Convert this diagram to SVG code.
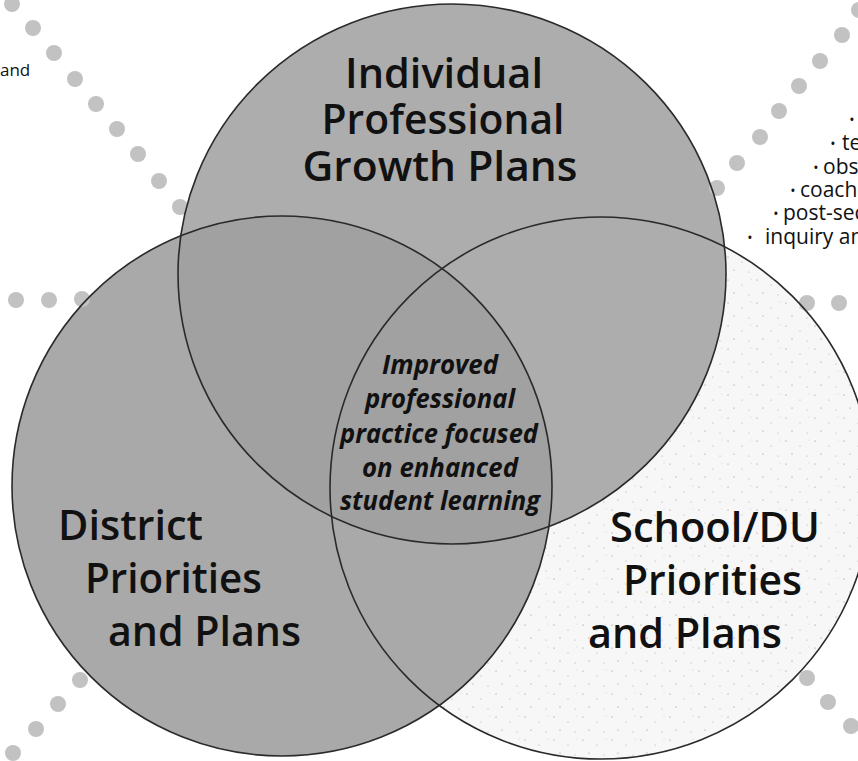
<svg xmlns="http://www.w3.org/2000/svg" xmlns:xlink="http://www.w3.org/1999/xlink" width="858" height="761" viewBox="0 0 858 761">
  <defs>
    <style>
      .head { font-family: "Open Sans", "Noto Sans", "Liberation Sans", sans-serif; font-weight: 600; font-size: 42px; fill: #111; }
      .core { font-family: "Open Sans", "Noto Sans", "Liberation Sans", sans-serif; font-weight: 700; font-style: italic; font-size: 27px; fill: #111; }
      .side { font-family: "Open Sans", "Noto Sans", "Liberation Sans", sans-serif; font-size: 21px; fill: #111; }
      .side .b { font-size: 14px; text-anchor: middle; }
      .note { font-family: "Open Sans", "Noto Sans", "Liberation Sans", sans-serif; font-size: 17px; fill: #111; }
      .ring { fill: none; stroke: #2a2a2a; stroke-width: 1.6; }
      .dot { fill: #c2c2c2; }
    </style>
    <!-- circle outlines, reused for fills, clips and strokes -->
    <ellipse id="c-top" cx="452" cy="274" rx="274" ry="270"/>
    <circle id="c-left" cx="282" cy="486" r="270"/>
    <circle id="c-right" cx="601" cy="488" r="271"/>
    <clipPath id="clip-top"><use xlink:href="#c-top"/></clipPath>
    <!-- sparse stipple for the school circle -->
    <pattern id="stipple" width="29" height="23" patternUnits="userSpaceOnUse">
      <rect width="29" height="23" fill="#f7f7f7"/>
      <circle cx="3" cy="4" r="0.6" fill="#8a8a8a"/>
      <circle cx="17" cy="9" r="0.5" fill="#9a9a9a"/>
      <circle cx="9" cy="17" r="0.6" fill="#8a8a8a"/>
      <circle cx="24" cy="19" r="0.5" fill="#9a9a9a"/>
      <circle cx="26" cy="3" r="0.4" fill="#aaaaaa"/>
    </pattern>
  </defs>

  <rect width="858" height="761" fill="#ffffff"/>

  <!-- circle fills -->
  <g id="school-plans-fill"><use xlink:href="#c-right" fill="url(#stipple)"/></g>
  <g id="district-plans-fill"><use xlink:href="#c-left" fill="#a9a9a9"/></g>
  <g id="individual-plans-fill"><use xlink:href="#c-top" fill="#adadad"/></g>
  <!-- top/left overlap is a touch darker -->
  <g clip-path="url(#clip-top)"><use xlink:href="#c-left" fill="#a1a1a1"/></g>

  <!-- dotted trails -->
  <g id="trails">
    <circle class="dot" cx="12" cy="4" r="8"/>
    <circle class="dot" cx="33" cy="28" r="8"/>
    <circle class="dot" cx="54" cy="53" r="8"/>
    <circle class="dot" cx="75" cy="79" r="8"/>
    <circle class="dot" cx="96" cy="104" r="8"/>
    <circle class="dot" cx="117" cy="129" r="8"/>
    <circle class="dot" cx="138" cy="154" r="8"/>
    <circle class="dot" cx="159" cy="181" r="8"/>
    <circle class="dot" cx="180" cy="207" r="8"/>

    <circle class="dot" cx="859" cy="10" r="8"/>
    <circle class="dot" cx="842" cy="35" r="8"/>
    <circle class="dot" cx="820" cy="61" r="8"/>
    <circle class="dot" cx="799" cy="86" r="8"/>
    <circle class="dot" cx="779" cy="111" r="8"/>
    <circle class="dot" cx="760" cy="137" r="8"/>
    <circle class="dot" cx="737" cy="163" r="8"/>
    <circle class="dot" cx="717" cy="188" r="8"/>

    <circle class="dot" cx="807" cy="303" r="8"/>
    <circle class="dot" cx="839" cy="303" r="8"/>

    <circle class="dot" cx="16" cy="300" r="8"/>
    <circle class="dot" cx="49" cy="300" r="8"/>
    <circle class="dot" cx="82" cy="299" r="8"/>

    <circle class="dot" cx="80" cy="680" r="8"/>
    <circle class="dot" cx="58" cy="704" r="8"/>
    <circle class="dot" cx="36" cy="729" r="8"/>
    <circle class="dot" cx="13" cy="753" r="8"/>

    <circle class="dot" cx="807" cy="678" r="8"/>
    <circle class="dot" cx="828" cy="702" r="8"/>
    <circle class="dot" cx="851" cy="726" r="8"/>
  </g>

  <!-- circle outlines -->
  <g id="outlines">
    <use xlink:href="#c-right" class="ring" stroke-width="2"/>
    <use xlink:href="#c-left" class="ring" stroke-width="1.8"/>
    <use xlink:href="#c-top" class="ring" stroke-width="1.4"/>
  </g>

  <!-- labels -->
  <g id="individual-plans" text-anchor="middle">
    <text class="head" x="444" y="88" textLength="198" lengthAdjust="spacingAndGlyphs">Individual</text>
    <text class="head" x="443" y="134" textLength="243" lengthAdjust="spacingAndGlyphs">Professional</text>
    <text class="head" x="440" y="181" textLength="275" lengthAdjust="spacingAndGlyphs">Growth Plans</text>
  </g>

  <g id="district-plans">
    <text class="head" x="58" y="540" textLength="145" lengthAdjust="spacingAndGlyphs">District</text>
    <text class="head" x="85" y="593" textLength="177" lengthAdjust="spacingAndGlyphs">Priorities</text>
    <text class="head" x="108" y="646" textLength="193" lengthAdjust="spacingAndGlyphs">and Plans</text>
  </g>

  <g id="school-plans">
    <text class="head" x="610" y="542" textLength="210" lengthAdjust="spacingAndGlyphs">School/DU</text>
    <text class="head" x="623" y="595" textLength="179" lengthAdjust="spacingAndGlyphs">Priorities</text>
    <text class="head" x="588" y="648" textLength="194" lengthAdjust="spacingAndGlyphs">and Plans</text>
  </g>

  <g id="center-focus">
    <text class="core" x="382" y="374" textLength="116" lengthAdjust="spacingAndGlyphs">Improved</text>
    <text class="core" x="365" y="408" textLength="150" lengthAdjust="spacingAndGlyphs">professional</text>
    <text class="core" x="340" y="443" textLength="198" lengthAdjust="spacingAndGlyphs">practice focused</text>
    <text class="core" x="362" y="477" textLength="156" lengthAdjust="spacingAndGlyphs">on enhanced</text>
    <text class="core" x="340" y="510" textLength="200" lengthAdjust="spacingAndGlyphs">student learning</text>
  </g>

  <!-- side notes running off the page edges -->
  <text class="note" x="0" y="76">and</text>
  <g id="side-notes" class="side">
    <text class="b" x="852" y="125">•</text>
    <text class="b" x="833" y="149">•</text>
    <text x="842" y="150">te</text>
    <text class="b" x="816" y="173">•</text>
    <text x="823" y="174">obs</text>
    <text class="b" x="793" y="196">•</text>
    <text x="800" y="197">coach</text>
    <text class="b" x="776" y="219">•</text>
    <text x="783" y="220">post-sec</text>
    <text class="b" x="750" y="243">•</text>
    <text x="765" y="244">inquiry an</text>
  </g>
</svg>
